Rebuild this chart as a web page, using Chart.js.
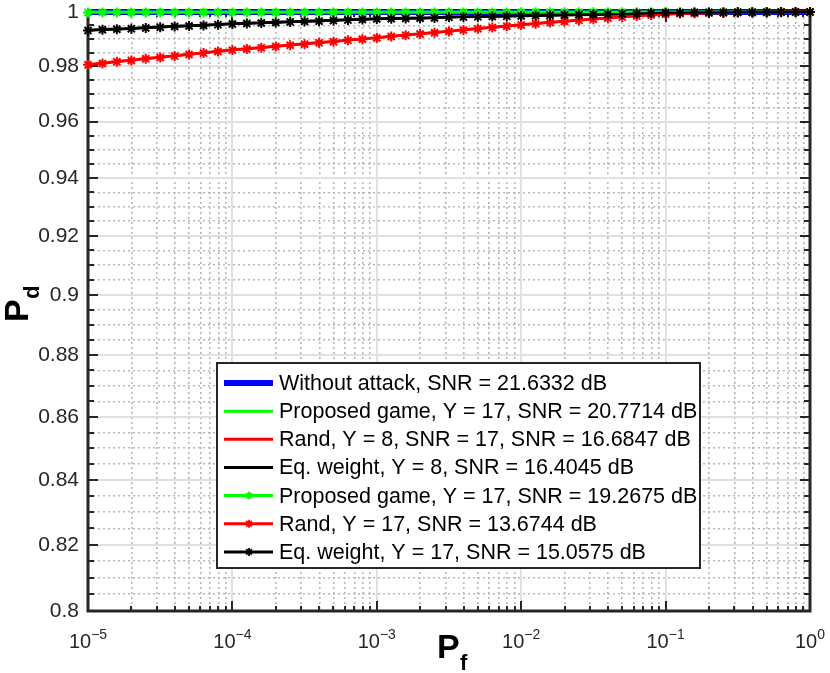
<!DOCTYPE html>
<html>
<head>
<meta charset="utf-8">
<script src="https://cdn.jsdelivr.net/npm/chart.js@4.4.0/dist/chart.umd.min.js"></script>
<style>
  html, body { margin: 0; padding: 0; background: #fff; }
  #wrap { width: 830px; height: 673px; }
</style>
</head>
<body>
<div id="wrap"><canvas id="roc"></canvas></div>
<script>
// x positions: log10(Pf), one point every 0.1 decade
const logPf = [
  -5.0, -4.9, -4.8, -4.7, -4.6, -4.5, -4.4, -4.3, -4.2, -4.1,
  -4.0, -3.9, -3.8, -3.7, -3.6, -3.5, -3.4, -3.3, -3.2, -3.1,
  -3.0, -2.9, -2.8, -2.7, -2.6, -2.5, -2.4, -2.3, -2.2, -2.1,
  -2.0, -1.9, -1.8, -1.7, -1.6, -1.5, -1.4, -1.3, -1.2, -1.1,
  -1.0, -0.9, -0.8, -0.7, -0.6, -0.5, -0.4, -0.3, -0.2, -0.1, 0.0
];

// Pd values
const withoutAttack = [
  1, 1, 1, 1, 1, 1, 1, 1, 1, 1, 1, 1, 1, 1, 1, 1, 1, 1, 1, 1, 1, 1, 1, 1, 1,
  1, 1, 1, 1, 1, 1, 1, 1, 1, 1, 1, 1, 1, 1, 1, 1, 1, 1, 1, 1, 1, 1, 1, 1, 1, 1
];
const proposedY17a = [
  1, 1, 1, 1, 1, 1, 1, 1, 1, 1, 1, 1, 1, 1, 1, 1, 1, 1, 1, 1, 1, 1, 1, 1, 1,
  1, 1, 1, 1, 1, 1, 1, 1, 1, 1, 1, 1, 1, 1, 1, 1, 1, 1, 1, 1, 1, 1, 1, 1, 1, 1
];
const randY8 = [
  0.9806, 0.9811, 0.9817, 0.9822, 0.9828, 0.9833, 0.9838, 0.9844, 0.9849, 0.9855,
  0.9860, 0.9864, 0.9869, 0.9873, 0.9878, 0.9882, 0.9887, 0.9891, 0.9896, 0.9900,
  0.9905, 0.9910, 0.9915, 0.9919, 0.9924, 0.9929, 0.9934, 0.9939, 0.9943, 0.9948,
  0.9953, 0.9957, 0.9962, 0.9966, 0.9970, 0.9974, 0.9978, 0.9982, 0.9986, 0.9989,
  0.9992, 0.9994, 0.9995, 0.9996, 0.9997, 0.9998, 0.9998, 0.9999, 0.9999, 1.0000, 1.0000
];
const eqWeightY8 = [
  0.9932, 0.9935, 0.9937, 0.9939, 0.9942, 0.9944, 0.9947, 0.9949, 0.9951, 0.9954,
  0.9956, 0.9958, 0.9960, 0.9962, 0.9964, 0.9966, 0.9967, 0.9969, 0.9971, 0.9973,
  0.9975, 0.9976, 0.9977, 0.9978, 0.9979, 0.9981, 0.9982, 0.9983, 0.9984, 0.9985,
  0.9986, 0.9987, 0.9988, 0.9989, 0.9990, 0.9991, 0.9992, 0.9993, 0.9994, 0.9996,
  0.9997, 0.9997, 0.9998, 0.9998, 0.9998, 0.9999, 0.9999, 0.9999, 1.0000, 1.0000, 1.0000
];
const proposedY17b = [
  0.9998, 0.9998, 0.9998, 0.9998, 0.9998, 0.9998, 0.9998, 0.9998, 0.9998, 0.9998,
  0.9998, 0.9998, 0.9998, 0.9998, 0.9998, 0.9998, 0.9998, 0.9998, 0.9998, 0.9998,
  0.9998, 0.9998, 0.9998, 0.9998, 0.9998, 0.9998, 0.9998, 0.9998, 0.9998, 0.9998,
  0.9999, 0.9999, 0.9999, 0.9999, 0.9999, 0.9999, 0.9999, 0.9999, 0.9999, 0.9999,
  0.9999, 0.9999, 0.9999, 0.9999, 0.9999, 1.0000, 1.0000, 1.0000, 1.0000, 1.0000, 1.0000
];
const randY17 = [
  0.9805, 0.9810, 0.9816, 0.9821, 0.9827, 0.9832, 0.9837, 0.9843, 0.9848, 0.9854,
  0.9859, 0.9863, 0.9868, 0.9872, 0.9877, 0.9881, 0.9886, 0.9890, 0.9895, 0.9899,
  0.9904, 0.9909, 0.9914, 0.9918, 0.9923, 0.9928, 0.9933, 0.9938, 0.9942, 0.9947,
  0.9952, 0.9956, 0.9961, 0.9965, 0.9969, 0.9973, 0.9977, 0.9981, 0.9985, 0.9989,
  0.9992, 0.9994, 0.9995, 0.9996, 0.9997, 0.9998, 0.9998, 0.9999, 0.9999, 1.0000, 1.0000
];
const eqWeightY17 = [
  0.9931, 0.9934, 0.9936, 0.9938, 0.9941, 0.9943, 0.9946, 0.9948, 0.9950, 0.9953,
  0.9955, 0.9957, 0.9959, 0.9961, 0.9963, 0.9965, 0.9966, 0.9968, 0.9970, 0.9972,
  0.9974, 0.9975, 0.9976, 0.9977, 0.9978, 0.9980, 0.9981, 0.9982, 0.9983, 0.9984,
  0.9985, 0.9986, 0.9988, 0.9989, 0.9990, 0.9991, 0.9992, 0.9993, 0.9994, 0.9996,
  0.9997, 0.9997, 0.9998, 0.9998, 0.9998, 0.9999, 0.9999, 0.9999, 1.0000, 1.0000, 1.0000
];

const seriesLabels = [
  'Without attack, SNR = 21.6332 dB',
  'Proposed game, Y = 17, SNR = 20.7714 dB',
  'Rand, Y = 8, SNR = 17, SNR = 16.6847 dB',
  'Eq. weight, Y = 8, SNR = 16.4045 dB',
  'Proposed game, Y = 17, SNR = 19.2675 dB',
  'Rand, Y = 17, SNR = 13.6744 dB',
  'Eq. weight, Y = 17, SNR = 15.0575 dB'
];

// tick labels
const xDecades = [-5, -4, -3, -2, -1, 0];
const xExpLabels = ['\u22125', '\u22124', '\u22123', '\u22122', '\u22121', '0'];
const yMajor = [0.8, 0.82, 0.84, 0.86, 0.88, 0.9, 0.92, 0.94, 0.96, 0.98, 1];
const yTickLabels = ['0.8', '0.82', '0.84', '0.86', '0.88', '0.9', '0.92', '0.94', '0.96', '0.98', '1'];

const FONT = '"Liberation Sans", Arial, Helvetica, sans-serif';
const AXIS = '#262626';

function pts(vals) {
  return vals.map((v, i) => ({ x: Math.pow(10, logPf[i]), y: v }));
}

function series(i, vals, color, width, marker) {
  return {
    label: seriesLabels[i],
    data: pts(vals),
    borderColor: color,
    backgroundColor: color,
    borderWidth: width,
    pointStyle: marker ? 'star' : false,
    pointRadius: marker ? 5 : 0,
    pointBorderWidth: 2,
    pointHoverRadius: 0,
    marker: marker,
    clip: false,
    order: 6 - i
  };
}

const datasets = [
  series(0, withoutAttack, '#0000ff', 6, false),
  series(1, proposedY17a, '#00ff00', 3, false),
  series(2, randY8, '#ff0000', 3, false),
  series(3, eqWeightY8, '#000000', 3, false),
  series(4, proposedY17b, '#00ff00', 2, true),
  series(5, randY17, '#ff0000', 2, true),
  series(6, eqWeightY17, '#000000', 2, true)
];

// ticks: decades + 2..9 minors on x, 0.005 steps on y (major every 0.02)
function xTicks() {
  const t = [];
  xDecades.forEach(d => {
    t.push({ value: Math.pow(10, d), major: true });
    if (d < 0) {
      for (let m = 2; m <= 9; m++) t.push({ value: m * Math.pow(10, d), major: false });
    }
  });
  return t;
}
function yTicks() {
  const t = [];
  for (let k = 0; k <= 40; k++) {
    t.push({ value: +(0.8 + k * 0.005).toFixed(3), major: k % 4 === 0 });
  }
  return t;
}

const isMajor = c => c.tick && c.tick.major;

// frame and inward tick marks, drawn under the data
const axesFrame = {
  id: 'axesFrame',
  beforeDatasetsDraw(chart) {
    const { ctx, chartArea: a, scales: { x, y } } = chart;
    ctx.save();
    ctx.strokeStyle = AXIS;
    ctx.lineWidth = 2;
    ctx.beginPath();
    x.ticks.forEach(t => {
      const px = Math.round(x.getPixelForValue(t.value));
      const len = t.major ? 10 : 5;
      ctx.moveTo(px, a.bottom); ctx.lineTo(px, a.bottom - len);
      ctx.moveTo(px, a.top); ctx.lineTo(px, a.top + len);
    });
    y.ticks.forEach(t => {
      const py = Math.round(y.getPixelForValue(t.value));
      const len = t.major ? 10 : 6;
      ctx.moveTo(a.left, py); ctx.lineTo(a.left + len, py);
      ctx.moveTo(a.right, py); ctx.lineTo(a.right - len, py);
    });
    ctx.stroke();
    ctx.lineWidth = 3;
    ctx.strokeRect(a.left, a.top, a.right - a.left, a.bottom - a.top);
    ctx.restore();
  }
};

// x tick labels as 10^n, axis titles with subscripts, legend box
const annotations = {
  id: 'annotations',
  afterDraw(chart) {
    const { ctx, scales: { x } } = chart;
    ctx.save();
    ctx.fillStyle = AXIS;
    ctx.textBaseline = 'alphabetic';
    ctx.textAlign = 'left';

    xDecades.forEach((d, i) => {
      const px = x.getPixelForValue(Math.pow(10, d));
      ctx.font = '20px ' + FONT;
      const wb = ctx.measureText('10').width;
      ctx.font = '14px ' + FONT;
      const we = ctx.measureText(xExpLabels[i]).width;
      const left = px - (wb + we) / 2;
      ctx.font = '20px ' + FONT;
      ctx.fillText('10', left, 648);
      ctx.font = '14px ' + FONT;
      ctx.fillText(xExpLabels[i], left + wb, 639);
    });

    // x title: P_f
    ctx.fillStyle = '#000';
    ctx.font = 'bold 34px ' + FONT;
    ctx.fillText('P', 437, 658);
    ctx.font = 'bold 22px ' + FONT;
    ctx.fillText('f', 460, 670);

    // y title: P_d (rotated)
    ctx.save();
    ctx.translate(28, 322);
    ctx.rotate(-Math.PI / 2);
    ctx.font = 'bold 34px ' + FONT;
    ctx.fillText('P', 0, 0);
    ctx.font = 'bold 22px ' + FONT;
    ctx.fillText('d', 23, 11);
    ctx.restore();

    // legend
    const box = { l: 217, t: 363, r: 700, b: 568 };
    ctx.fillStyle = '#fff';
    ctx.fillRect(box.l, box.t, box.r - box.l, box.b - box.t);
    chart.data.datasets.forEach((ds, i) => {
      const cy = 383 + i * 28.15;
      ctx.strokeStyle = ds.borderColor;
      ctx.lineWidth = i === 0 ? 6 : 3;
      ctx.beginPath();
      ctx.moveTo(224, cy); ctx.lineTo(273, cy);
      ctx.stroke();
      if (ds.marker) {
        ctx.lineWidth = 1.8;
        ctx.beginPath();
        for (let k = 0; k < 4; k++) {
          const ang = k * Math.PI / 4;
          ctx.moveTo(249 - 4 * Math.cos(ang), cy - 4 * Math.sin(ang));
          ctx.lineTo(249 + 4 * Math.cos(ang), cy + 4 * Math.sin(ang));
        }
        ctx.stroke();
      }
      ctx.fillStyle = '#000';
      ctx.font = '21.5px ' + FONT;
      ctx.textBaseline = 'middle';
      ctx.fillText(ds.label, 279, cy + 1);
    });
    ctx.strokeStyle = AXIS;
    ctx.lineWidth = 2;
    ctx.strokeRect(box.l, box.t, box.r - box.l, box.b - box.t);
    ctx.restore();
  }
};

new Chart(document.getElementById('roc'), {
  type: 'line',
  data: { datasets },
  options: {
    responsive: true,
    maintainAspectRatio: false,
    animation: false,
    layout: { padding: { left: 0, right: 20, top: 12, bottom: 0 } },
    elements: { line: { tension: 0 } },
    plugins: { legend: { display: false }, tooltip: { enabled: false } },
    scales: {
      x: {
        type: 'logarithmic',
        min: 1e-5,
        max: 1,
        afterBuildTicks: s => { s.ticks = xTicks(); },
        afterFit: s => { s.height = 62; s.paddingLeft = 0; s.paddingRight = 0; },
        ticks: { display: false },
        grid: {
          drawTicks: false,
          color: c => isMajor(c) ? '#e0e0e0' : '#b8b8b8',
          lineWidth: c => isMajor(c) ? 2 : 1.6
        },
        border: { display: false, dash: c => (c.tick && !c.tick.major) ? [2, 3] : [] }
      },
      y: {
        type: 'logarithmic',
        min: 0.8,
        max: 1,
        afterBuildTicks: s => { s.ticks = yTicks(); },
        afterFit: s => { s.width = 88; s.paddingTop = 0; s.paddingBottom = 0; },
        ticks: {
          autoSkip: false,
          padding: 9,
          color: AXIS,
          font: { family: FONT, size: 21 },
          callback: v => {
            const idx = yMajor.findIndex(m => Math.abs(m - v) < 1e-9);
            return idx >= 0 ? yTickLabels[idx] : '';
          }
        },
        grid: {
          drawTicks: false,
          color: c => isMajor(c) ? '#e0e0e0' : '#b8b8b8',
          lineWidth: c => isMajor(c) ? 2 : 1.6
        },
        border: { display: false, dash: c => (c.tick && !c.tick.major) ? [2, 3] : [] }
      }
    }
  },
  plugins: [axesFrame, annotations]
});
</script>
</body>
</html>
